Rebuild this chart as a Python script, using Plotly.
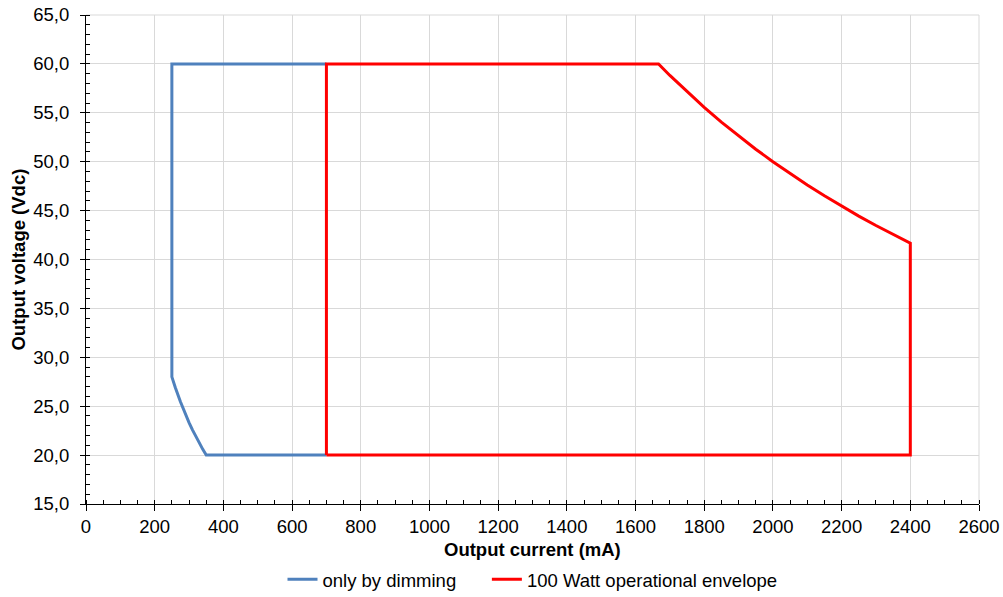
import plotly.graph_objects as go

# Data
dim_current = [700, 350, 340, 325, 310, 300, 290, 275, 260, 250, 250, 700]
dim_voltage = [20.0, 20.0, 20.59, 21.54, 22.58, 23.33, 24.14, 25.45, 26.92, 28.0, 60.0, 60.0]

env_current = [700, 2400, 2400, 2350, 2300, 2250, 2200, 2150, 2100, 2050, 2000,
               1950, 1900, 1850, 1800, 1750, 1700, 1667, 700, 700]
env_voltage = [20.0, 20.0, 41.67, 42.55, 43.48, 44.44, 45.45, 46.51, 47.62, 48.78, 50.0,
               51.28, 52.63, 54.05, 55.56, 57.14, 58.82, 60.0, 60.0, 20.0]

x_ticks = list(range(0, 2601, 200))
y_ticks = [15, 20, 25, 30, 35, 40, 45, 50, 55, 60, 65]

font = "Liberation Sans, Arial, sans-serif"
fs = 18.5
grid = "#d9d9d9"

fig = go.Figure()
fig.add_trace(go.Scatter(x=dim_current, y=dim_voltage, mode="lines",
                         name="only by dimming\u00a0\u00a0\u00a0\u00a0\u00a0",
                         line=dict(color="#4f81bd", width=3)))
fig.add_trace(go.Scatter(x=env_current, y=env_voltage, mode="lines",
                         name="100 Watt operational envelope",
                         line=dict(color="#ff0000", width=3)))

fig.update_layout(
    width=1003, height=597,
    margin=dict(l=86, r=24, t=15, b=93, autoexpand=False),
    paper_bgcolor="white", plot_bgcolor="white",
    separators=", ",
    font=dict(family=font, size=fs, color="black"),
    showlegend=True,
    legend=dict(orientation="h", x=0.5, xanchor="center", y=-0.155, yanchor="middle",
                font=dict(size=fs), itemwidth=30, traceorder="normal",
                tracegroupgap=0),
    xaxis=dict(
        range=[0, 2600], tickvals=x_ticks, tickformat="d", automargin=False,
        showgrid=True, gridcolor=grid, gridwidth=1,
        showline=True, linecolor="black", linewidth=1,
        ticks="outside", ticklen=6, tickcolor="black", ticklabelstandoff=0,
        ticklabeloverflow="allow", tickfont=dict(size=fs),
        minor=dict(dtick=50, ticks="inside", ticklen=4, tickcolor="black", showgrid=False),
        zeroline=False,
    ),
    yaxis=dict(
        range=[15, 65], tickvals=y_ticks, tickformat=".1f", automargin=False,
        showgrid=True, gridcolor=grid, gridwidth=1,
        showline=True, linecolor="black", linewidth=1,
        ticks="outside", ticklen=5, tickcolor="black", ticklabelstandoff=7,
        ticklabeloverflow="allow", tickfont=dict(size=fs),
        minor=dict(dtick=1, ticks="inside", ticklen=4, tickcolor="black", showgrid=False),
        zeroline=False,
    ),
    shapes=[
        dict(type="line", xref="paper", yref="paper", x0=0, x1=1, y0=1, y1=1,
             line=dict(color=grid, width=1), layer="below"),
        dict(type="line", xref="paper", yref="paper", x0=1, x1=1, y0=0, y1=1,
             line=dict(color=grid, width=1), layer="below"),
    ],
    annotations=[
        dict(text="<b>Output current (mA)</b>", xref="paper", yref="paper",
             x=0.5, y=-0.094, xanchor="center", yanchor="middle",
             showarrow=False, font=dict(size=fs)),
        dict(text="<b>Output voltage (Vdc)</b>", xref="paper", yref="paper",
             x=-0.0761, y=0.5, xanchor="center", yanchor="middle", textangle=-90,
             showarrow=False, font=dict(size=fs)),
    ],
)

fig.write_html("out.html",
               config={"displayModeBar": False},
               post_script="document.body.style.margin='0';document.body.style.padding='0';")
